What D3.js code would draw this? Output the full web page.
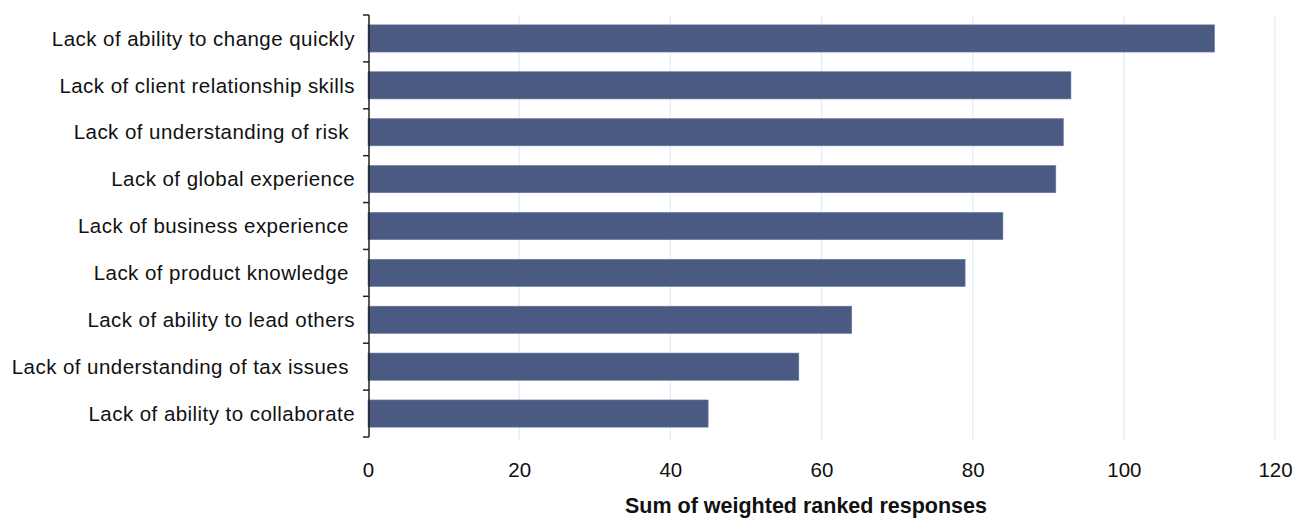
<!DOCTYPE html>
<html><head><meta charset="utf-8">
<script src="https://cdn.jsdelivr.net/npm/d3@7"></script>
<style>
body{margin:0;background:#fff;}
text{font-family:"Liberation Sans",Arial,sans-serif;}
</style></head>
<body><svg id="c" width="1306" height="520"></svg>
<script>
const categories = ["Lack of ability to change quickly","Lack of client relationship skills","Lack of understanding of risk ","Lack of global experience","Lack of business experience ","Lack of product knowledge ","Lack of ability to lead others","Lack of understanding of tax issues ","Lack of ability to collaborate"];
const values = [112,93,92,91,84,79,64,57,45];
const xTicks = [0,20,40,60,80,100,120];
const xTitle = "Sum of weighted ranked responses";

(function(){
const svg = d3.select("#c");
const pL = 368, pR = 1275, pT = 15, pB = 437;
const x = d3.scaleLinear().domain([0,120]).range([pL,pR]);
const y = d3.scaleBand().domain(categories).range([pT,pB]).paddingInner(0.42).paddingOuter(0.21);

svg.append("g").selectAll("line").data(xTicks.slice(1)).join("line")
  .attr("x1",d=>x(d)).attr("x2",d=>x(d)).attr("y1",pT).attr("y2",pB+3)
  .attr("stroke","#e3f0f9").attr("stroke-width",1.5);

svg.append("g").selectAll("rect").data(values).join("rect")
  .attr("x",x(0)).attr("y",(d,i)=>y(categories[i]))
  .attr("width",d=>x(d)-x(0)).attr("height",y.bandwidth())
  .attr("fill","#4a5a82").attr("stroke","#6a7aa0").attr("stroke-width",0.6);

const step = (pB-pT)/categories.length;
const ya = svg.append("g");
ya.append("line").attr("x1",pL+1).attr("x2",pL+1).attr("y1",pT).attr("y2",pB).attr("stroke","#222").attr("stroke-width",1.5);
ya.selectAll("line.t").data(d3.range(categories.length+1)).join("line").attr("class","t")
  .attr("x1",pL-5).attr("x2",pL+1).attr("y1",i=>pT+i*step).attr("y2",i=>pT+i*step)
  .attr("stroke","#222").attr("stroke-width",1.5);
ya.selectAll("text").data(categories).join("text")
  .attr("x",pL-13).attr("y",d=>y(d)+y.bandwidth()/2).attr("dy","0.35em")
  .attr("text-anchor","end").attr("font-size",20.5).attr("fill","#111")
  .style("white-space","pre").attr("letter-spacing","0.45")
  .text(d=>d);

const xa = d3.axisBottom(x).tickValues(xTicks).tickSize(0).tickPadding(0);
const g = svg.append("g").attr("transform",`translate(0,462)`).call(xa);
g.select(".domain").remove();
g.selectAll("text").attr("font-size",20.5).attr("fill","#111").attr("font-family","Liberation Sans, Arial, sans-serif");

svg.append("text").attr("x",806).attr("y",513).attr("text-anchor","middle")
  .attr("font-size",21.5).attr("font-weight","bold").attr("fill","#111")
  .text(xTitle);
})();
</script></body></html>
